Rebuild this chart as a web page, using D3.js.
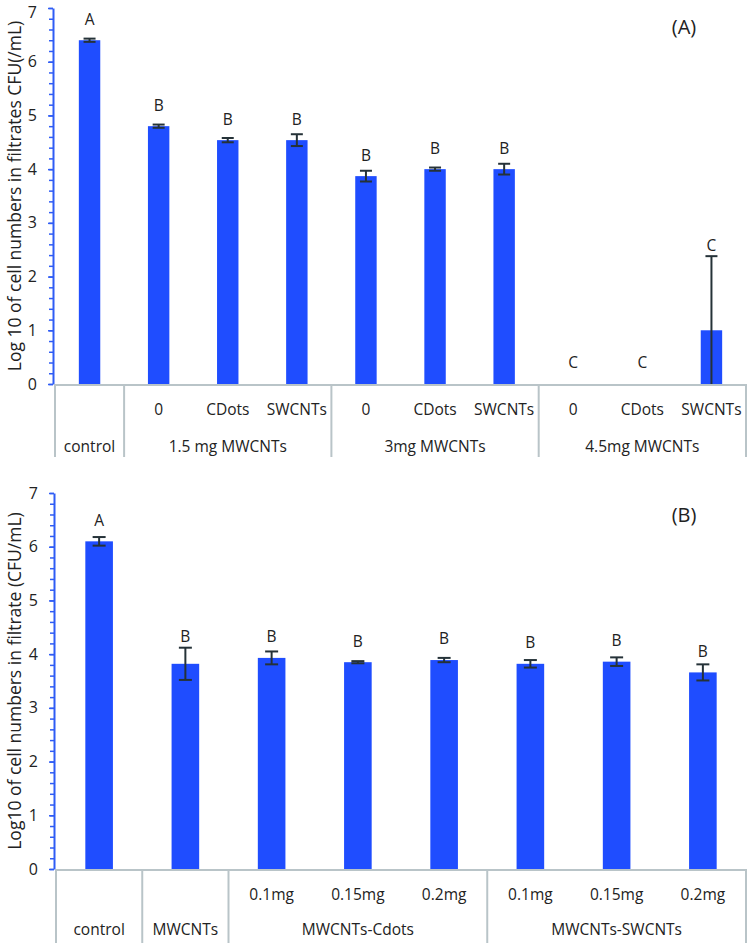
<!DOCTYPE html>
<html><head><meta charset="utf-8">
<script src="https://cdn.jsdelivr.net/npm/d3@7"></script>
<style>
body{margin:0;background:#fff}
text{font-family:"Open Sans",sans-serif;fill:#222}
</style>
</head><body>
<svg id="chart" width="749" height="943"></svg>
<script>
// ---------- Panel A data ----------
const subLabelsA = ["", "0", "CDots", "SWCNTs", "0", "CDots", "SWCNTs", "0", "CDots", "SWCNTs"];
const groupLabelsA = ["control", "1.5 mg MWCNTs", "3mg MWCNTs", "4.5mg MWCNTs"];
const groupSizesA = [1, 3, 3, 3];
const valuesA = [6.40, 4.80, 4.54, 4.54, 3.87, 4.00, 4.00, 0, 0, 1.00];
const errorsA = [0.03, 0.03, 0.04, 0.11, 0.10, 0.03, 0.10, 0, 0, 1.38];
const lettersA = ["A", "B", "B", "B", "B", "B", "B", "C", "C", "C"];
const titleA = "Log 10 of cell numbers in filtrates CFU(/mL)";

// ---------- Panel B data ----------
const subLabelsB = ["", "", "0.1mg", "0.15mg", "0.2mg", "0.1mg", "0.15mg", "0.2mg"];
const groupLabelsB = ["control", "MWCNTs", "MWCNTs-Cdots", "MWCNTs-SWCNTs"];
const groupSizesB = [1, 1, 3, 3];
const valuesB = [6.10, 3.82, 3.93, 3.85, 3.89, 3.82, 3.86, 3.66];
const errorsB = [0.08, 0.30, 0.12, 0.02, 0.04, 0.07, 0.08, 0.15];
const lettersB = ["A", "B", "B", "B", "B", "B", "B", "B"];
const titleB = "Log10 of cell numbers in filtrate (CFU/mL)";

const yTicks = [0, 1, 2, 3, 4, 5, 6, 7];

const svg = d3.select("#chart");
const BLUE = "#1f4dff";
const AXIS_BLUE = "#2f5cf5";
const GRID = "#b9c4c8";
const ERR = "#253238";
const FS = 15.5;

function drawPanel(o) {
  const g = svg.append("g");
  const x = d3.scaleBand().domain(d3.range(o.values.length)).range([o.left, o.right]).padding(0);
  const y = d3.scaleLinear().domain([0, 7]).range([o.y0, o.y7]);
  const bw = x.bandwidth() * o.barFrac;

  // bars
  g.selectAll("rect.bar").data(o.values).join("rect")
    .attr("x", (d, i) => x(i) + (x.bandwidth() - bw) / 2)
    .attr("y", d => y(d))
    .attr("width", bw)
    .attr("height", d => y(0) - y(d))
    .attr("fill", BLUE);

  // error bars
  const errData = o.values.map((v, i) => ({i, v, e: o.errors[i]})).filter(d => d.e > 0);
  const eg = g.selectAll("g.err").data(errData).join("g");
  const cap = o.cap;
  eg.append("line")
    .attr("x1", d => x(d.i) + x.bandwidth() / 2).attr("x2", d => x(d.i) + x.bandwidth() / 2)
    .attr("y1", d => y(d.v + d.e)).attr("y2", d => y(Math.max(0, d.v - d.e)))
    .attr("stroke", ERR).attr("stroke-width", 2);
  eg.append("line")
    .attr("x1", d => x(d.i) + x.bandwidth() / 2 - cap / 2).attr("x2", d => x(d.i) + x.bandwidth() / 2 + cap / 2)
    .attr("y1", d => y(d.v + d.e)).attr("y2", d => y(d.v + d.e))
    .attr("stroke", ERR).attr("stroke-width", 2);
  eg.filter(d => d.v - d.e > 0).append("line")
    .attr("x1", d => x(d.i) + x.bandwidth() / 2 - cap / 2).attr("x2", d => x(d.i) + x.bandwidth() / 2 + cap / 2)
    .attr("y1", d => y(d.v - d.e)).attr("y2", d => y(d.v - d.e))
    .attr("stroke", ERR).attr("stroke-width", 2);

  // letters
  g.selectAll("text.letter").data(o.letters).join("text")
    .attr("x", (d, i) => x(i) + x.bandwidth() / 2)
    .attr("y", (d, i) => Math.min(y(o.values[i]) - 21, y(o.values[i] + o.errors[i]) - 11))
    .attr("dy", "0.35em")
    .attr("text-anchor", "middle")
    .attr("font-size", FS)
    .text(d => d);

  // y axis: minor ticks
  const minor = d3.range(0, 7.001, 0.2).map(v => +v.toFixed(1));
  g.append("g").attr("transform", `translate(${o.axisX},0)`)
    .call(d3.axisLeft(y).tickValues(minor).tickSize(4).tickFormat("").tickSizeOuter(0))
    .call(a => a.selectAll("line").attr("stroke", AXIS_BLUE).attr("stroke-width", 1.5))
    .call(a => a.select(".domain").remove());
  // y axis: major
  g.append("g").attr("transform", `translate(${o.axisX},0)`)
    .call(d3.axisLeft(y).tickValues(yTicks).tickSize(5).tickPadding(11).tickFormat(d3.format("d")).tickSizeOuter(0))
    .call(a => a.selectAll("line").attr("stroke", AXIS_BLUE).attr("stroke-width", 1.5))
    .call(a => a.select(".domain").attr("stroke", AXIS_BLUE).attr("stroke-width", 2))
    .call(a => a.selectAll("text").attr("font-size", 16).attr("font-family", "'Open Sans',sans-serif").attr("fill", "#222"))
    .call(a => a.selectAll(".tick text").filter(d => y(d) < 14).attr("dy", "0.5em").attr("y", 0).attr("transform", `translate(0,${14 - y(7)})`).attr("dy", "0.2em"));

  // category table
  const tbl = g.append("g");
  tbl.append("line").attr("x1", o.left).attr("x2", o.right).attr("y1", y(0) + 1).attr("y2", y(0) + 1)
    .attr("stroke", GRID).attr("stroke-width", 2);
  let start = 0;
  const bounds = [0];
  o.groupSizes.forEach(s => { start += s; bounds.push(start); });
  tbl.selectAll("line.sep").data(bounds).join("line")
    .attr("x1", d => d === o.values.length ? o.right : x(d))
    .attr("x2", d => d === o.values.length ? o.right : x(d))
    .attr("y1", y(0)).attr("y2", y(0) + o.tableH)
    .attr("stroke", GRID).attr("stroke-width", 2);
  tbl.selectAll("text.sub").data(o.subs).join("text")
    .attr("x", (d, i) => x(i) + x.bandwidth() / 2)
    .attr("y", y(0) + o.row1)
    .attr("dy", "0.35em")
    .attr("text-anchor", "middle").attr("font-size", FS)
    .text(d => d);
  tbl.selectAll("text.grp").data(o.groups).join("text")
    .attr("x", (d, k) => {
      const a = x(bounds[k]);
      const b = bounds[k + 1] === o.values.length ? o.right : x(bounds[k + 1]);
      return (a + b) / 2;
    })
    .attr("y", y(0) + o.row2)
    .attr("dy", "0.35em")
    .attr("text-anchor", "middle").attr("font-size", FS)
    .text(d => d);

  // axis title
  const cy = (y(0) + y(7)) / 2;
  g.append("text")
    .attr("transform", `translate(${o.titleX},${cy}) rotate(-90)`)
    .attr("text-anchor", "middle").attr("dy", "0.35em")
    .attr("font-size", 17.5)
    .text(o.title);

  // panel label
  g.append("text").attr("x", o.labelX).attr("y", o.labelY).attr("dy", "0.35em")
    .attr("text-anchor", "middle").attr("font-size", 20).text(o.panel);
}

drawPanel({
  values: valuesA, errors: errorsA, letters: lettersA, subs: subLabelsA,
  groups: groupLabelsA, groupSizes: groupSizesA, title: titleA, panel: "(A)",
  left: 55, right: 746, axisX: 53, y0: 384, y7: 8, barFrac: 0.31, cap: 12,
  tableH: 73, row1: 26, row2: 63, titleX: 15, labelX: 684, labelY: 27
});
drawPanel({
  values: valuesB, errors: errorsB, letters: lettersB, subs: subLabelsB,
  groups: groupLabelsB, groupSizes: groupSizesB, title: titleB, panel: "(B)",
  left: 56, right: 746, axisX: 54, y0: 869, y7: 493, barFrac: 0.32, cap: 13,
  tableH: 74, row1: 26, row2: 61, titleX: 15, labelX: 684, labelY: 515
});
</script>
</body></html>
